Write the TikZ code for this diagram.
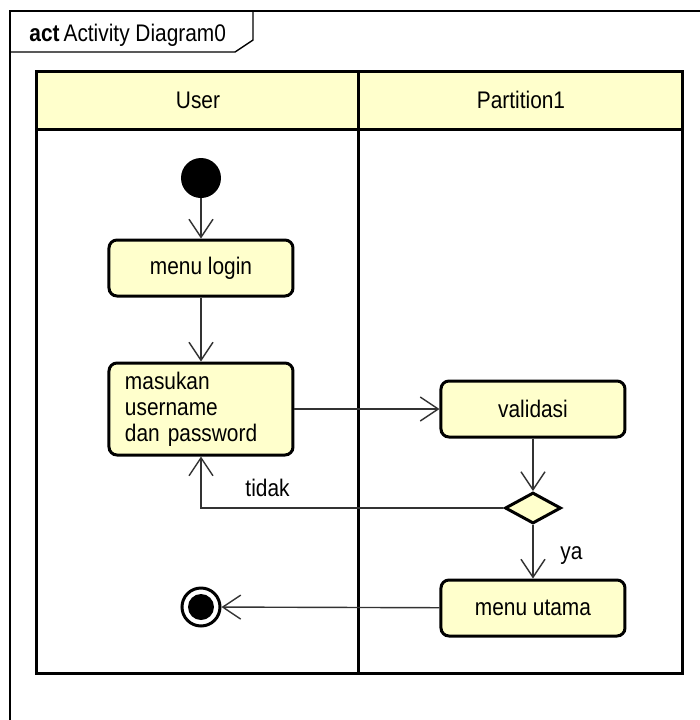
\documentclass[tikz,border=0pt]{standalone}
\usepackage{fontspec}
\setmainfont{Liberation Sans}[FakeStretch=0.87]
\usetikzlibrary{arrows.meta}
\usetikzlibrary{shapes.geometric}
\definecolor{umlyellow}{HTML}{FFFFCC}

\begin{document}
\begin{tikzpicture}[x=0.5pt,y=-0.5pt,
  every node/.style={font=\fontsize{12}{13}\selectfont},
  action/.style={draw=black,fill=umlyellow,line width=1.5pt,rounded corners=4pt,minimum width=92pt,minimum height=28pt},
  flow/.style={draw=black!80,line width=0.7pt,-{Straight Barb[length=9pt,width=12pt]}}]
\useasboundingbox (0,0) rectangle (700,720);

% frame
\draw[line width=0.7pt] (10,720) -- (10,11) -- (700,11);
\draw[line width=0.7pt] (10,52) -- (235,52) -- (253,40) -- (253,11);
\node[anchor=west,inner sep=0pt] (title) at (29,35) {\textbf{act}\,Activity Diagram0};

% lanes
\draw[line width=1.5pt,fill=umlyellow] (37,71) rectangle (683,129);
\draw[line width=1.5pt] (37,71) rectangle (683,673);
\draw[line width=1.5pt] (359,71) -- (359,673);
\node (laneuser) at (198,100) {User};
\node (lanepart) at (521,100) {Partition1};

% nodes
\node[circle,fill=black,minimum size=20pt,inner sep=0pt] (start) at (201,178) {};
\node[action] (login) at (201,268) {menu login};
\node[action,align=left,text width=76pt,inner xsep=8pt,minimum height=46pt] (input) at (201,409) {masukan\\username\\dan password};
\node[action] (valid) at (533,409) {validasi};
\node[diamond,draw=black,fill=umlyellow,line width=1.5pt,minimum width=28pt,minimum height=15.5pt,inner sep=0pt] (cek) at (533,508) {};
\node[action] (utama) at (533,608) {menu utama};
\node[circle,draw=black,line width=1.5pt,minimum size=19pt,inner sep=0pt] (end) at (201,607) {};
\fill (end) circle (13);

% edges
\draw[flow] (start) -- (login);
\draw[flow] (login) -- (input);
\draw[flow] (input) -- (valid);
\draw[flow] (valid) -- (cek);
\draw[flow] (cek) -- (utama) node[midway,right,xshift=10pt,yshift=-2pt] {ya};
\draw[flow] (cek.west) -| (input.south) node[pos=0.39,above,yshift=2pt] {tidak};
\draw[flow] (utama) -- (end);
\end{tikzpicture}
\end{document}
